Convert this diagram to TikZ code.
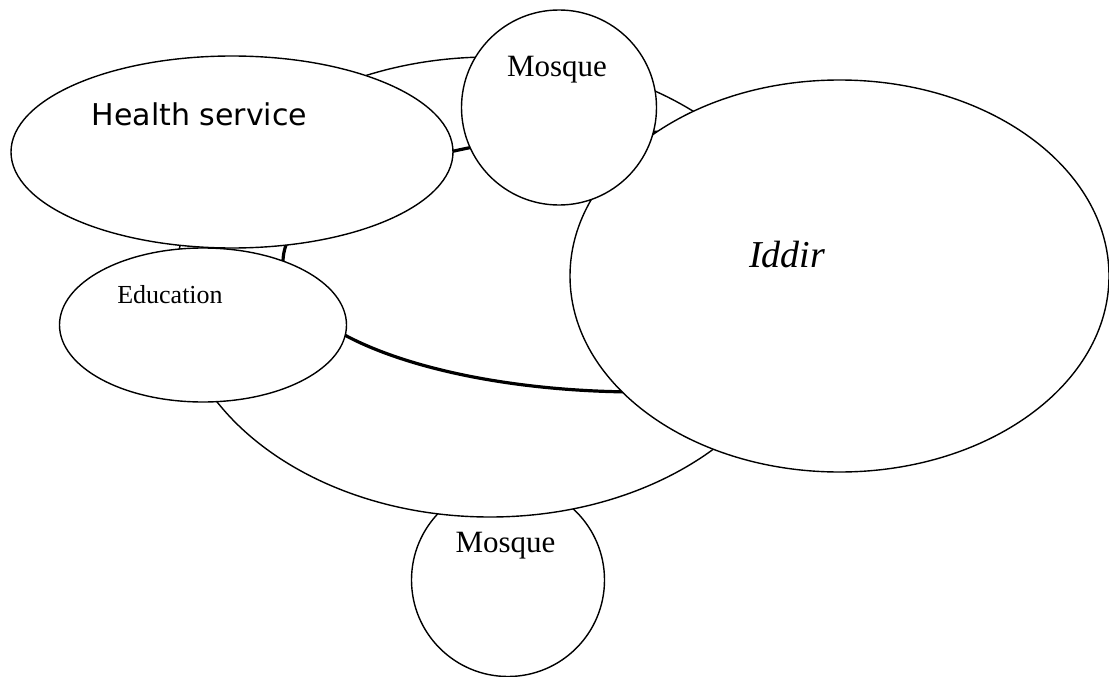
\documentclass[tikz,border=0pt]{standalone}
\usepackage{fontspec}
\setmainfont{Liberation Serif}
\newfontfamily\healthfont{DejaVu Sans}
\usetikzlibrary{shapes.geometric, positioning}

\begin{document}
\begin{tikzpicture}[
    x=1pt, y=-1pt,
    blob/.style={ellipse, draw, fill=white, line width=1.4pt, inner sep=0pt},
    ring/.style={ellipse, draw, line width=3.2pt, inner sep=0pt},
    tag/.style={anchor=base, inner sep=0pt}
]
    \useasboundingbox (0,0) rectangle (1109,677);

    % Lower mosque (behind the community)
    \node[blob, minimum width=193pt, minimum height=193pt] (mosqueS) at (508,580) {};

    % Community
    \node[blob, minimum width=630pt, minimum height=460pt] (outer) at (490,287) {};
    \node[ring, minimum width=714pt, minimum height=260pt] (core) at (640,262) {};

    % Institutions
    \node[blob, minimum width=539pt, minimum height=392pt] (iddir) at (839.5,276) {};
    \node[blob, minimum width=442pt, minimum height=192pt] (health) at (232,152) {};
    \node[blob, minimum width=287pt, minimum height=154pt] (edu) at (203,325) {};
    \node[blob, minimum width=195pt, minimum height=195pt] (mosqueN) at (559,107.5) {};

    % Labels
    \node[tag, font=\healthfont\fontsize{30}{36}\selectfont, xshift=-32.5pt, yshift=27pt] (healthtxt) at (health.center) {Health service};
    \node[tag, font=\fontsize{31}{37}\selectfont, xshift=-2pt, yshift=30.5pt] (mosqueNtxt) at (mosqueN.center) {Mosque};
    \node[tag, font=\fontsize{31}{37}\selectfont, xshift=-2.5pt, yshift=28pt] (mosqueStxt) at (mosqueS.center) {Mosque};
    \node[tag, font=\fontsize{26}{31}\selectfont, xshift=-33pt, yshift=22pt] (edutxt) at (edu.center) {Education};
    \node[tag, font=\itshape\fontsize{38}{45}\selectfont, xshift=-52.5pt, yshift=9pt] (iddirtxt) at (iddir.center) {Iddir};
\end{tikzpicture}
\end{document}
